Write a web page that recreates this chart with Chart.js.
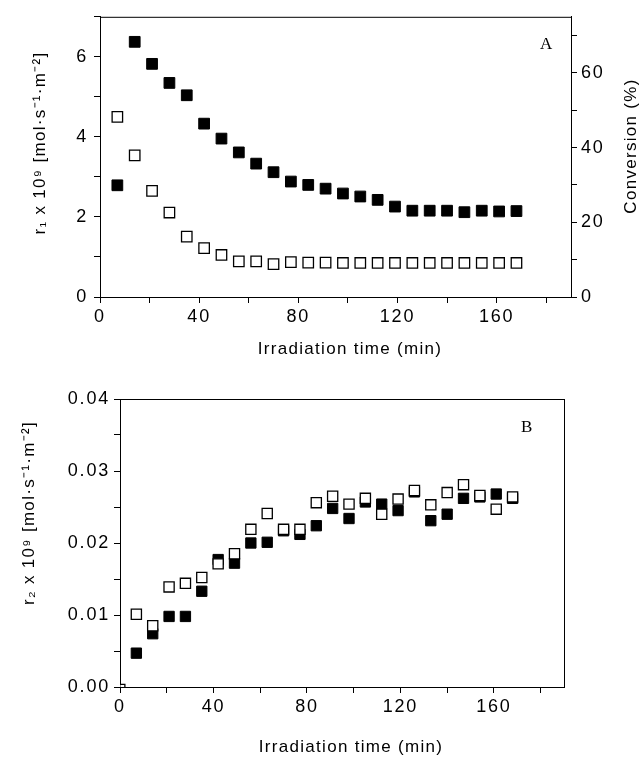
<!DOCTYPE html>
<html>
<head>
<meta charset="utf-8">
<script src="https://cdn.jsdelivr.net/npm/chart.js@4.4.0/dist/chart.umd.min.js"></script>
<style>
  body { margin: 0; background: #fff; }
  #wrap { position: relative; width: 644px; height: 758px; }
  #chartA { position: absolute; left: 0; top: 0; }
  #chartB { position: absolute; left: 0; top: 365px; }
</style>
</head>
<body>
<div id="wrap">
  <canvas id="chartA" width="644" height="365"></canvas>
  <canvas id="chartB" width="644" height="393"></canvas>
</div>
<script>
// irradiation time (min)
const times = [7, 14, 21, 28, 35, 42, 49, 56, 63, 70, 77, 84, 91, 98, 105, 112, 119, 126, 133, 140, 147, 154, 161, 168];

// panel A
const conversionA = [29.9, 68.3, 62.4, 57.3, 54.0, 46.4, 42.4, 38.7, 35.7, 33.4, 30.9, 30.0, 29.0, 27.7, 26.9, 26.0, 24.2, 23.1, 23.1, 23.1, 22.7, 23.1, 22.9, 23.0];
const r1A = [4.50, 3.54, 2.65, 2.11, 1.51, 1.22, 1.05, 0.89, 0.89, 0.82, 0.87, 0.86, 0.86, 0.85, 0.85, 0.85, 0.85, 0.85, 0.85, 0.85, 0.85, 0.85, 0.85, 0.85];

// panel B
const timesOpenB = [1, 7, 14, 21, 28, 35, 42, 49, 56, 63, 70, 77, 84, 91, 98, 105, 112, 119, 126, 133, 140, 147, 154, 161, 168];
const openB = [0, 0.0101, 0.0085, 0.0139, 0.0144, 0.0152, 0.0171, 0.0185, 0.0219, 0.0241, 0.0219, 0.0219, 0.0256, 0.0265, 0.0254, 0.0262, 0.0240, 0.0261, 0.0273, 0.0253, 0.0270, 0.0281, 0.0266, 0.0247, 0.0264];
const filledB = [0.0047, 0.0074, 0.0098, 0.0098, 0.0133, 0.0177, 0.0172, 0.0200, 0.0201, 0.0217, 0.0212, 0.0224, 0.0248, 0.0234, 0.0257, 0.0254, 0.0245, 0.0271, 0.0231, 0.0240, 0.0262, 0.0264, 0.0268, 0.0262];

const xTicksMajor = [0, 40, 80, 120, 160];
const xTitle = 'Irradiation time (min)';
const r1Title = 'r\u2081 x 10\u2079 [mol\u00b7s\u207b\u00b9\u00b7m\u207b\u00b2]';
const r2Title = 'r\u2082 x 10\u2079 [mol\u00b7s\u207b\u00b9\u00b7m\u207b\u00b2]';
const convTitle = 'Conversion (%)';

Chart.defaults.font.family = "'Liberation Sans', Arial, sans-serif";
Chart.defaults.font.size = 18;
Chart.defaults.color = '#000';

const pts = (xs, ys) => xs.map((x, i) => ({ x: x, y: ys[i] }));

// frame, letter spacing, panel letter, axis titles
const extras = {
  id: 'extras',
  beforeDraw(chart) {
    chart.ctx.letterSpacing = '1.8px';
  },
  beforeDatasetsDraw(chart) {
    const { ctx, chartArea: a } = chart;
    ctx.save();
    ctx.strokeStyle = '#000';
    ctx.lineWidth = 1;
    ctx.strokeRect(a.left + 0.5, a.top + 0.5, a.right - a.left, a.bottom - a.top);
    ctx.restore();
  },
  afterDatasetsDraw(chart, args, opts) {
    const ctx = chart.ctx;
    ctx.save();
    ctx.fillStyle = '#000';
    ctx.textAlign = 'center';
    ctx.textBaseline = 'middle';
    ctx.letterSpacing = '0px';
    ctx.font = "17px 'Liberation Serif', 'Times New Roman', serif";
    ctx.fillText(opts.letter, chart.scales.x.getPixelForValue(opts.at[0]), chart.scales.y.getPixelForValue(opts.at[1]));
    ctx.font = "17px 'Liberation Sans', Arial, sans-serif";
    ctx.letterSpacing = '1.3px';
    opts.titles.forEach(t => {
      ctx.save();
      ctx.translate(t.x, t.y);
      if (t.vertical) ctx.rotate(-Math.PI / 2);
      ctx.fillText(t.text, 0, 0);
      ctx.restore();
    });
    ctx.restore();
  }
};

const tickGrid = { drawOnChartArea: false, color: '#000', tickLength: 6, lineWidth: 1 };
const border = { color: '#000', width: 1 };

new Chart(document.getElementById('chartA'), {
  type: 'scatter',
  data: {
    datasets: [
      {
        label: 'r1',
        data: pts(times, r1A),
        yAxisID: 'y',
        pointStyle: 'rect',
        pointRadius: 7.4,
        backgroundColor: '#fff',
        borderColor: '#000',
        borderWidth: 1.3
      },
      {
        label: 'Conversion',
        data: pts(times, conversionA),
        yAxisID: 'y2',
        pointStyle: 'rect',
        pointRadius: 7.6,
        backgroundColor: '#000',
        borderColor: '#000',
        borderWidth: 1
      }
    ]
  },
  options: {
    responsive: false,
    animation: false,
    events: [],
    layout: { padding: { top: 12, left: 0, right: 0, bottom: 0 } },
    plugins: {
      legend: { display: false },
      tooltip: { enabled: false },
      extras: {
        letter: 'A', at: [180, 6.3],
        titles: [
          { text: xTitle, x: 350, y: 349 },
          { text: r1Title, x: 40, y: 143, vertical: true },
          { text: convTitle, x: 631, y: 146, vertical: true }
        ]
      }
    },
    scales: {
      x: {
        type: 'linear', min: 0, max: 190,
        grid: tickGrid, border: border,
        ticks: { stepSize: 20, includeBounds: false, padding: 3, maxRotation: 0,
          callback: v => xTicksMajor.includes(v) ? v : '' },
        afterFit: s => { s.height = 68; }
      },
      y: {
        type: 'linear', position: 'left', min: 0, max: 7,
        grid: tickGrid, border: border,
        ticks: { stepSize: 1, includeBounds: false, padding: 6,
          callback: v => v % 2 === 0 ? v : '' },
        afterFit: s => { s.width = 100; }
      },
      y2: {
        type: 'linear', position: 'right', min: 0, max: 75,
        grid: tickGrid, border: border,
        ticks: { stepSize: 10, includeBounds: false, padding: 4,
          callback: v => v % 20 === 0 ? v : '' },
        afterFit: s => { s.width = 73; }
      }
    }
  },
  plugins: [extras]
});

new Chart(document.getElementById('chartB'), {
  type: 'scatter',
  data: {
    datasets: [
      {
        label: 'open',
        data: pts(timesOpenB, openB),
        pointStyle: 'rect',
        pointRadius: c => c.dataIndex === 0 ? 3.6 : 7.2,
        backgroundColor: '#fff',
        borderColor: '#000',
        borderWidth: 1.3
      },
      {
        label: 'filled',
        data: pts(times, filledB),
        pointStyle: 'rect',
        pointRadius: 7.3,
        backgroundColor: '#000',
        borderColor: '#000',
        borderWidth: 1
      }
    ]
  },
  options: {
    responsive: false,
    animation: false,
    events: [],
    layout: { padding: { top: 34, left: 0, right: 80, bottom: 0 } },
    plugins: {
      legend: { display: false },
      tooltip: { enabled: false },
      extras: {
        letter: 'B', at: [174, 0.0361],
        titles: [
          { text: xTitle, x: 351, y: 382 },
          { text: r2Title, x: 29, y: 148, vertical: true }
        ]
      }
    },
    scales: {
      x: {
        type: 'linear', min: 0, max: 190,
        grid: tickGrid, border: border,
        ticks: { stepSize: 20, includeBounds: false, padding: 3, maxRotation: 0,
          callback: v => xTicksMajor.includes(v) ? v : '' },
        afterFit: s => { s.height = 71; }
      },
      y: {
        type: 'linear', position: 'left', min: 0, max: 0.04,
        grid: tickGrid, border: border,
        ticks: { stepSize: 0.005, includeBounds: false, padding: 4,
          callback: v => Math.round(v * 1000) % 10 === 0 ? v.toFixed(2) : '' },
        afterFit: s => { s.width = 120; }
      }
    }
  },
  plugins: [extras]
});
</script>
</body>
</html>
